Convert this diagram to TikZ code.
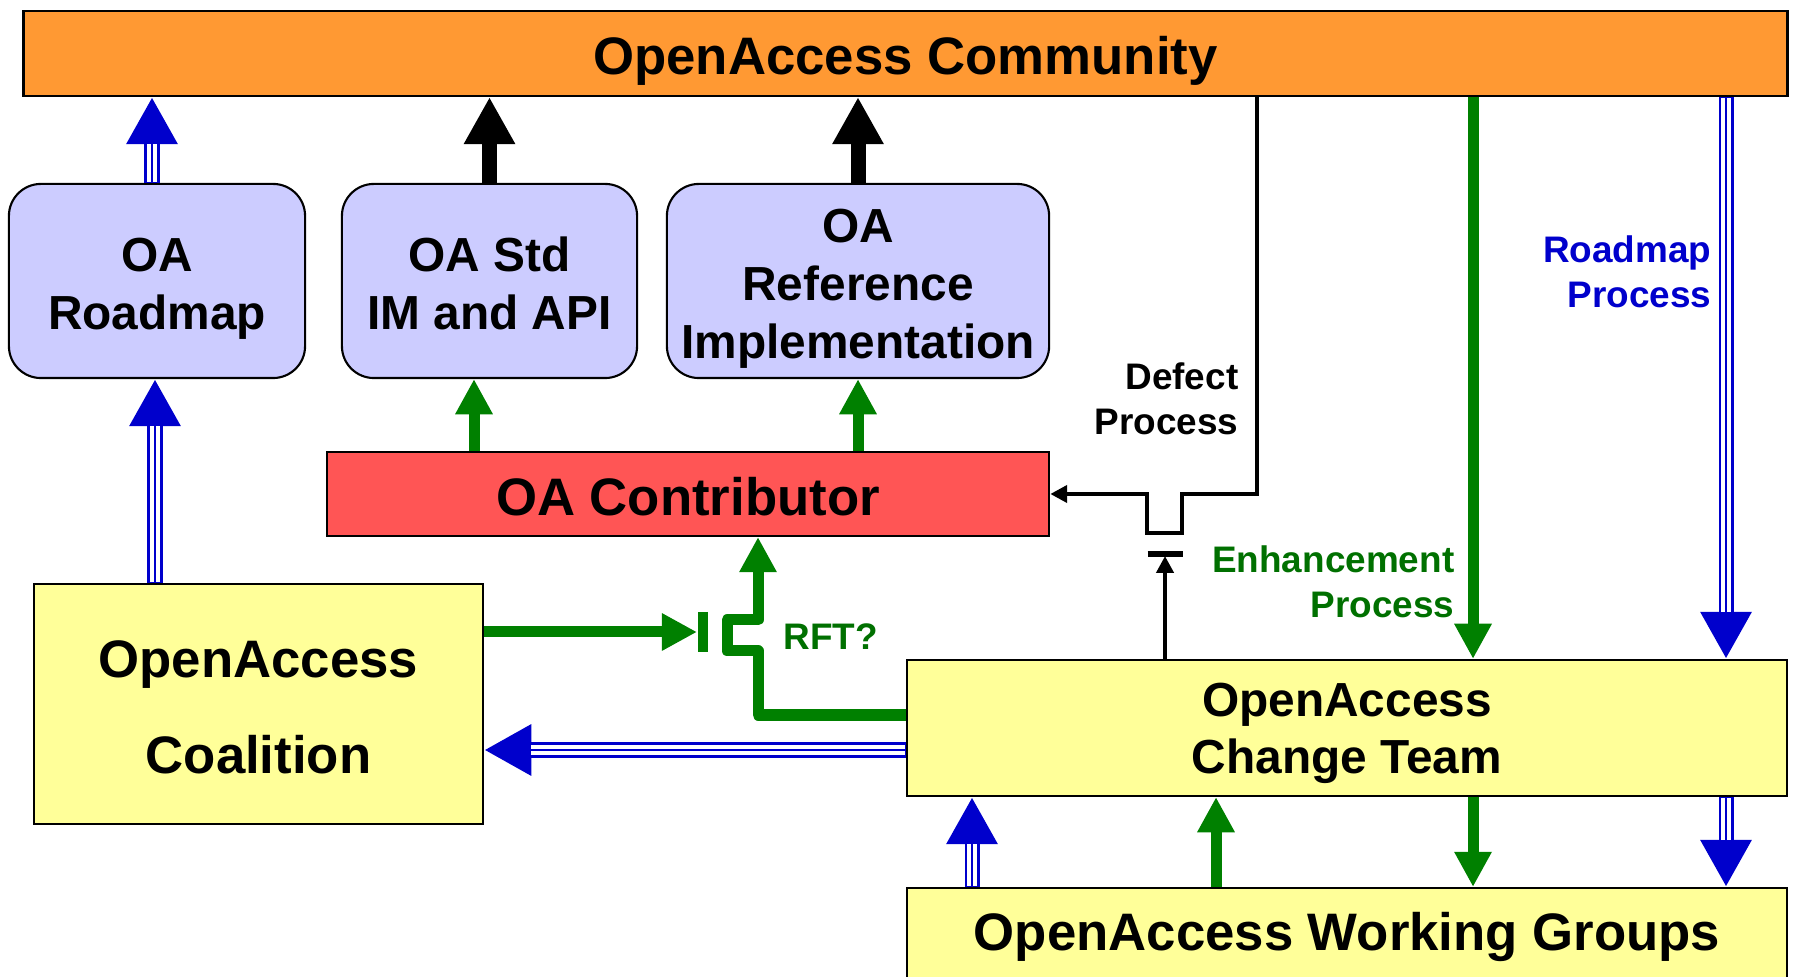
\documentclass[tikz,border=0pt]{standalone}
\usepackage{fontspec}
\setmainfont{Liberation Sans}
\usetikzlibrary{arrows.meta}

\definecolor{oaorange}{RGB}{255,153,51}
\definecolor{oalilac}{RGB}{204,204,255}
\definecolor{oared}{RGB}{255,85,85}
\definecolor{oayellow}{RGB}{255,255,153}
\definecolor{oagreen}{RGB}{0,128,0}
\definecolor{oablue}{RGB}{0,0,204}
\definecolor{labgreen}{RGB}{0,112,0}

\tikzset{
    box/.style={draw, line width=0.6pt, align=center, inner sep=1pt},
    bigtxt/.style={font=\bfseries\fontsize{15}{18}\selectfont, text height=15.9pt, text depth=3.75pt},
    midtxt/.style={font=\bfseries\fontsize{13.6}{16.4}\selectfont, text height=30.8pt, text depth=3.4pt},
    labtxt/.style={font=\bfseries\fontsize{10.5}{12.8}\selectfont, inner sep=0pt},
    lilac/.style={box, midtxt, fill=oalilac, rounded corners=0.32cm, minimum height=1.94cm},
    triple/.style={draw=oablue, line width=4.27pt, -{Triangle[length=13.4pt,width=13.7pt]},
        postaction={draw=white, line width=2.73pt, -, shorten >=13.4pt, shorten <=0.3pt},
        postaction={draw=oablue, line width=0.77pt, -, shorten >=13.4pt, shorten <=0.3pt}},
    thickarr/.style={draw=black, line width=4.27pt, -{Triangle[length=13.4pt,width=13.7pt]}},
    greenarr/.style={draw=oagreen, line width=3.13pt, line join=round, -{Triangle[length=10pt,width=10pt]}},
    defarr/.style={draw=black, line width=1.4pt, -{Triangle[length=4.8pt,width=4.8pt]}},
    gbar/.style={draw=oagreen, line width=2.85pt},
    kbar/.style={draw=black, line width=1.6pt},
}

\begin{document}
\begin{tikzpicture}[x=0.01cm, y=-0.01cm]
    \path[use as bounding box, clip] (0,0) rectangle (1804,977);

    \node[box, bigtxt, fill=oaorange, minimum width=17.63cm, minimum height=0.85cm] (comm) at (905.5,53.5) {OpenAccess Community};
    \node[lilac, minimum width=2.96cm] (roadmap) at (157,281) {OA\\Roadmap};
    \node[lilac, minimum width=2.95cm] (std) at (489.5,281) {OA Std\\IM and API};
    \node[lilac, minimum width=3.82cm, text height=47.2pt] (impl) at (858,281) {OA\\Reference\\Implementation};
    \node[box, bigtxt, fill=oared, minimum width=7.22cm, minimum height=0.84cm] (contrib) at (688,494) {OA Contributor};
    \node[box, bigtxt, font=\bfseries\fontsize{15}{27.2}\selectfont, text height=43.1pt, fill=oayellow, minimum width=4.49cm, minimum height=2.4cm] (coal) at (258.5,704) {OpenAccess\\Coalition};
    \node[box, midtxt, text height=29.5pt, fill=oayellow, minimum width=8.8cm, minimum height=1.36cm] (team) at (1347,728) {OpenAccess\\Change Team};
    \node[box, bigtxt, text depth=6.3pt, fill=oayellow, minimum width=8.8cm, minimum height=0.92cm] (wg) at (1347,934) {OpenAccess Working Groups};

    \coordinate (c1) at (152,0);    % roadmap up
    \coordinate (c2) at (155,0);    % coalition up
    \coordinate (c3) at (474,0);    % contributor to std
    \coordinate (c4) at (1257,0);   % defect
    \coordinate (c5) at (1165,0);   % team to gate
    \coordinate (c6) at (1473,0);   % enhancement
    \coordinate (c7) at (1726,0);   % roadmap process
    \coordinate (c8) at (972,0);
    \coordinate (c9) at (1216,0);
    \coordinate (gate) at (697,632);
    \coordinate (jog) at (758,715);
    \coordinate (back) at (0,750);
    \coordinate (tbar) at (1165,556);

    \draw[triple] (c1 |- roadmap.north) -- (c1 |- comm.south);
    \draw[thickarr] (std.north) -- (std.north |- comm.south);
    \draw[thickarr] (impl.north) -- (impl.north |- comm.south);
    \draw[triple] (c2 |- coal.north) -- (c2 |- roadmap.south);
    \draw[greenarr] (c3 |- contrib.north) -- (c3 |- std.south);
    \draw[greenarr] (impl.south |- contrib.north) -- (impl.south);

    \draw[greenarr] (gate -| coal.east) -- (gate);                  % RFT
    \draw[gbar] ([shift={(6,-20)}]gate) -- ([shift={(6,20)}]gate);
    \draw[greenarr] (jog -| team.west) -- (jog) -- ++(0,-64) -- ++(-31,0) -- ++(0,-31) -- ++(31,0) -- (jog |- contrib.south);
    \draw[triple] (back -| team.west) -- (back -| coal.east);

    \draw[defarr] (c4 |- comm.south) -- (c4 |- contrib.east) -- ++(-75,0) -- ++(0,39) -- ++(-35,0) -- ++(0,-39) -- (contrib.east);
    \draw[defarr] (c5 |- team.north) -- (tbar);
    \draw[kbar] ([shift={(-17.5,-2)}]tbar) -- ([shift={(17.5,-2)}]tbar);

    \draw[greenarr] (c6 |- comm.south) -- (c6 |- team.north);       % enhancement
    \draw[triple] (c7 |- comm.south) -- (c7 |- team.north);         % roadmap
    \draw[triple] (c8 |- wg.north) -- (c8 |- team.south);
    \draw[greenarr] (c9 |- wg.north) -- (c9 |- team.south);
    \draw[greenarr] (c6 |- team.south) -- (c6 |- wg.north);
    \draw[triple] (c7 |- team.south) -- (c7 |- wg.north);

    \node[labtxt, align=right, anchor=east] (deflab) at (1239,399) {Defect\\Process};
    \node[labtxt, align=right, anchor=east, text=labgreen] (enhlab) at (1455,582) {Enhancement\\Process};
    \node[labtxt, align=right, anchor=east, text=oablue] (rmlab) at (1712,272) {Roadmap\\Process};
    \node[labtxt, anchor=west, text=labgreen] (rftlab) at (783,637) {RFT?};
\end{tikzpicture}
\end{document}
